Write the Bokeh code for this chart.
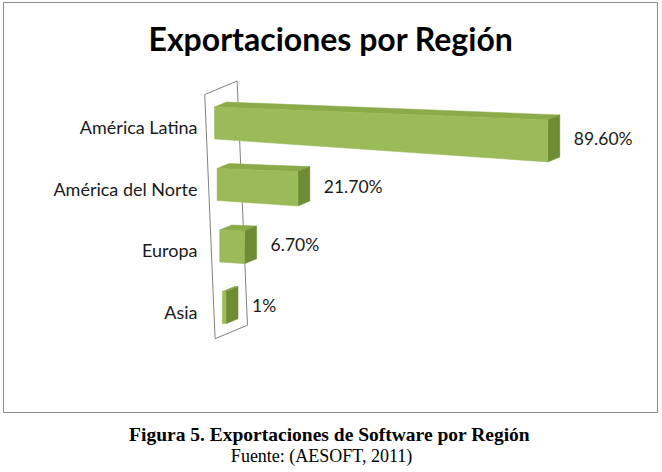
from bokeh.plotting import figure
from bokeh.models import Range1d, Label
from bokeh.layouts import column
from bokeh.embed import file_html
from bokeh.resources import INLINE
from bokeh.core.properties import value

# ---------------- data ----------------
categories = ["América Latina", "América del Norte", "Europa", "Asia"]
percentages = [89.6, 21.7, 6.7, 1.0]
value_labels = ["89.60%", "21.70%", "6.70%", "1%"]
chart_title = "Exportaciones por Región"
caption_lines = ["Figura 5.  Exportaciones de Software por Región", "Fuente: (AESOFT, 2011)"]

# ---------------- layout constants (pixels) ----------------
W = 662
CH = 415                       # chart figure height
CAP_H = 472 - CH               # caption figure height
FRAME_L, FRAME_R, FRAME_T, FRAME_B = 3, 657, 2, 412
PX_PER_UNIT = 3.72     # horizontal pixels per percentage point
PX_PER_ROW = 61.5      # vertical pixels per category row
ZERO_PX = 214          # pixel x of value 0 (front face, first row)
ROW0_PX = 122.5        # pixel y of first row centre

x_start = -(ZERO_PX - FRAME_L) / PX_PER_UNIT
x_end = x_start + (FRAME_R - FRAME_L) / PX_PER_UNIT
y_top = -(ROW0_PX - FRAME_T) / PX_PER_ROW
y_bottom = y_top + (FRAME_B - FRAME_T) / PX_PER_ROW

# pseudo-3D projection parameters (data units)
ROW_SHIFT = 2.6 / PX_PER_UNIT      # wall slant: rows shift right going down
DEPTH_DX = 12 / PX_PER_UNIT        # depth offset in x
DEPTH_DY = -5 / PX_PER_ROW         # depth offset in y
HALF_H = 16 / PX_PER_ROW           # half bar height
GROW = 0.0035                      # perspective growth with value
SLOPE = 0.2 / PX_PER_ROW           # downward slope (rows per value unit)


def proj(v, r, local, z):
    x = v + ROW_SHIFT * r + DEPTH_DX * z
    y = r + HALF_H * (1 + GROW * v) * local + SLOPE * v + DEPTH_DY * z
    return x, y


p = figure(width=W, height=CH,
           x_range=Range1d(x_start, x_end),
           y_range=Range1d(y_bottom, y_top),
           output_backend="svg", toolbar_location=None,
           x_axis_location=None, y_axis_location=None,
           min_border_left=FRAME_L, min_border_right=W - FRAME_R,
           min_border_top=FRAME_T, min_border_bottom=CH - FRAME_B)
p.grid.visible = False
p.outline_line_color = "#8a8a8a"
p.outline_line_width = 1
p.background_fill_color = "white"
p.border_fill_color = "white"

# ---------------- wall ----------------
n = len(categories)
wall_top, wall_bot = -0.52, n - 0.55
wz0, wz1 = -0.7, 2.0
wall_x, wall_y = [], []
for (r, z) in [(wall_top, wz0), (wall_top, wz1), (wall_bot, wz1), (wall_bot, wz0)]:
    wall_x.append(ROW_SHIFT * r + DEPTH_DX * z)
    wall_y.append(r + DEPTH_DY * z)
p.patch(wall_x, wall_y, fill_color="white", line_color="#808080", line_width=1)

# ---------------- bars ----------------
FRONT = "#9bbb59"
TOP = "#8aab48"
SIDE = "#6e8c34"

top_xs, top_ys, side_xs, side_ys, front_xs, front_ys = [], [], [], [], [], []
for r, v in enumerate(percentages):
    ftl = proj(0, r, -1, 0)
    ftr = proj(v, r, -1, 0)
    fbr = proj(v, r, 1, 0)
    fbl = proj(0, r, 1, 0)
    btl = proj(0, r, -1, 1)
    btr = proj(v, r, -1, 1)
    bbr = proj(v, r, 1, 1)
    top_xs.append([ftl[0], ftr[0], btr[0], btl[0]])
    top_ys.append([ftl[1], ftr[1], btr[1], btl[1]])
    side_xs.append([ftr[0], btr[0], bbr[0], fbr[0]])
    side_ys.append([ftr[1], btr[1], bbr[1], fbr[1]])
    front_xs.append([ftl[0], ftr[0], fbr[0], fbl[0]])
    front_ys.append([ftl[1], ftr[1], fbr[1], fbl[1]])

p.patches(top_xs, top_ys, fill_color=TOP, line_color=TOP, line_width=0.5)
p.patches(side_xs, side_ys, fill_color=SIDE, line_color=SIDE, line_width=0.5)
p.patches(front_xs, front_ys, fill_color=FRONT, line_color=FRONT, line_width=0.5)

# ---------------- value labels ----------------
GAP = 14 / PX_PER_UNIT
lab_x = [v + ROW_SHIFT * r + DEPTH_DX + GAP for r, v in enumerate(percentages)]
lab_y = [r + SLOPE * v + DEPTH_DY * 0.5 for r, v in enumerate(percentages)]
p.text(x=lab_x, y=lab_y, text=value_labels, text_font=value("Lato"),
       text_font_size="17.5px", text_color="#1a1a1a",
       text_align="left", text_baseline="middle")

# ---------------- category labels ----------------
cat_x = [-17 / PX_PER_UNIT] * n
cat_y = [r + 0.07 for r in range(n)]
p.text(x=cat_x, y=cat_y, text=categories, text_font=value("Lato"),
       text_font_size="18px", text_color="#1a1a1a",
       text_align="right", text_baseline="middle")

# ---------------- chart title ----------------
p.add_layout(Label(x=327.5, y=FRAME_B - FRAME_T - 36, x_units="screen", y_units="screen",
                   text=chart_title, text_font="Lato", text_font_style="bold",
                   text_font_size="32px", text_color="#000000",
                   text_align="center", text_baseline="middle"))

# ---------------- caption figure ----------------
cap = figure(width=W, height=CAP_H, x_range=Range1d(0, W), y_range=Range1d(CAP_H, 0),
             output_backend="svg", toolbar_location=None,
             x_axis_location=None, y_axis_location=None,
             min_border=0)
cap.grid.visible = False
cap.outline_line_color = None
cap.background_fill_color = "white"
cap.border_fill_color = "white"
cap.text(x=[332.5], y=[19], text=[caption_lines[0]], text_font=value("Liberation Serif"),
         text_font_style="bold", text_font_size="19.5px", text_color="#000000",
         text_align="center", text_baseline="middle")
cap.text(x=[322], y=[40], text=[caption_lines[1]], text_font=value("Liberation Serif"),
         text_font_size="18px", text_color="#000000",
         text_align="center", text_baseline="middle")

layout = column(p, cap, spacing=0)
open("out.html", "w").write(file_html(layout, INLINE))
